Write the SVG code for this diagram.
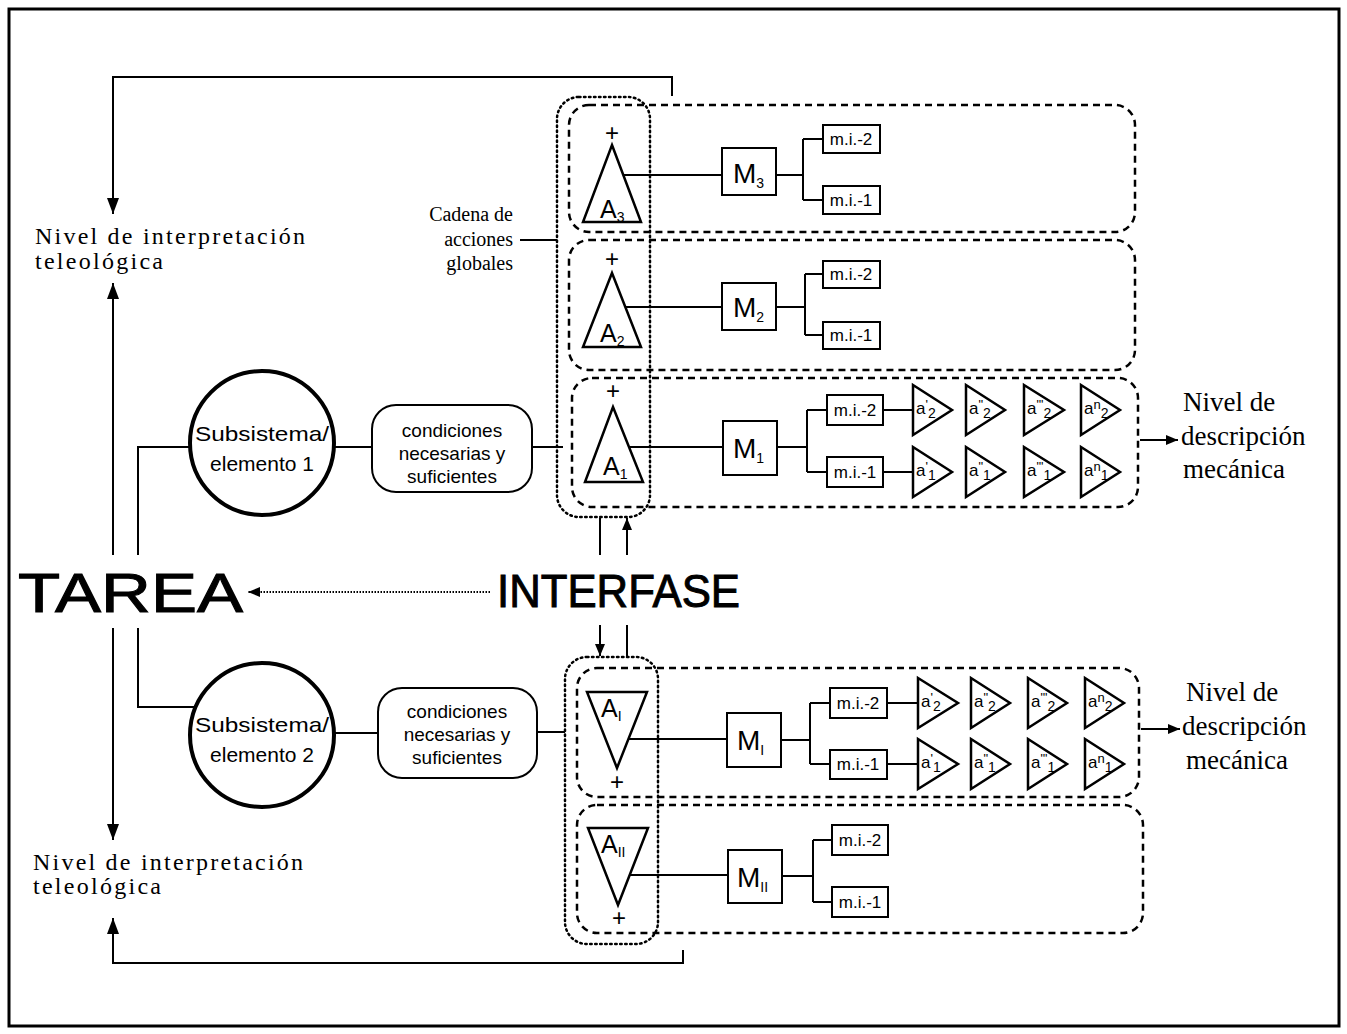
<svg xmlns="http://www.w3.org/2000/svg" width="1347" height="1034" viewBox="0 0 1347 1034">
<defs>
<marker id="arr" viewBox="0 0 16 12" refX="16" refY="6" orient="auto" markerWidth="16" markerHeight="12" markerUnits="userSpaceOnUse"><path d="M0,0 L16,6 L0,12 z" fill="#000"/></marker>
<marker id="arrs" viewBox="0 0 12 10" refX="12" refY="5" orient="auto" markerWidth="12" markerHeight="10" markerUnits="userSpaceOnUse"><path d="M0,0 L12,5 L0,10 z" fill="#000"/></marker>
</defs>
<style>
.ln{fill:none;stroke:#000;stroke-width:2}
.dash{fill:none;stroke:#000;stroke-width:2.5;stroke-dasharray:7 5}
.dot{fill:none;stroke:#000;stroke-width:2.5;stroke-dasharray:1.5 3.5;stroke-linecap:round}
.box{fill:#fff;stroke:#000;stroke-width:2}
.tri{fill:#fff;stroke:#000;stroke-width:2.5;stroke-linejoin:miter}
.sans{font-family:"Liberation Sans",Arial,sans-serif;fill:#000}
.mi{font-family:"Liberation Sans",Arial,sans-serif;font-size:17px;text-anchor:middle}
.aa{font-family:"Liberation Sans",Arial,sans-serif;font-size:17px}
.big{font-family:"Liberation Sans",Arial,sans-serif;font-size:25px}
.mm{font-family:"Liberation Sans",Arial,sans-serif;font-size:28px}
.sub{font-size:14px}
.sup{font-size:13px}
.plus{font-family:"Liberation Sans",Arial,sans-serif;font-size:24px;text-anchor:middle}
.niv{font-family:"Liberation Serif","Times New Roman",serif;font-size:24px}
.desc{font-family:"Liberation Serif","Times New Roman",serif;font-size:27px}
.cad{font-family:"Liberation Serif","Times New Roman",serif;font-size:20px;text-anchor:end}
.cond{font-family:"Liberation Sans",Arial,sans-serif;font-size:19px;text-anchor:middle}
.sub2{font-family:"Liberation Sans",Arial,sans-serif;font-size:21px;text-anchor:middle}
.huge{font-family:"Liberation Sans",Arial,sans-serif;fill:#000;stroke:#000;stroke-width:1}
</style>
<rect x="0" y="0" width="1347" height="1034" fill="#fff"/>
<rect x="9" y="9" width="1330" height="1017" fill="none" stroke="#000" stroke-width="3"/>

<g id="connectors">
<path class="ln" d="M672,96 V77 H113 V214" marker-end="url(#arr)"/>
<path class="ln" d="M113,555 V283" marker-end="url(#arr)"/>
<path class="ln" d="M113,628 V840" marker-end="url(#arr)"/>
<path class="ln" d="M683,950 V963 H113 V918" marker-end="url(#arr)"/>
<path class="ln" d="M190,447 H138 V555"/>
<path class="ln" d="M138,628 V707 H196"/>
<path class="ln" d="M334,447 H372"/>
<path class="ln" d="M532,447 H563"/>
<path class="ln" d="M334,733 H378"/>
<path class="ln" d="M537,732 H565"/>
<path class="ln" d="M520,240 H557"/>
<path class="ln" d="M600,518 V555"/>
<path class="ln" d="M627,555 V518" marker-end="url(#arrs)"/>
<path class="ln" d="M600,625 V656" marker-end="url(#arrs)"/>
<path class="ln" d="M627,625 V657"/>
<path class="ln" d="M490,592 H248" stroke-dasharray="1.5 1.5" marker-end="url(#arrs)"/>
<path class="ln" d="M1140,440 H1178" marker-end="url(#arrs)"/>
<path class="ln" d="M1141,729 H1180" marker-end="url(#arrs)"/>
<path class="ln" d="M623,175 H722 M776,175 H803 M803,139 V200 M803,139 H823 M803,200 H823"/>
<path class="ln" d="M625,307 H722 M776,307 H805 M805,274 V335 M805,274 H823 M805,335 H823"/>
<path class="ln" d="M629,447 H723 M777,447 H807 M807,410 V472 M807,410 H827 M807,472 H827 M883,410 H913 M883,472 H913"/>
<path class="ln" d="M628,739 H727 M781,740 H810 M810,703 V764 M810,703 H830 M810,764 H830 M887,703 H918 M887,764 H918"/>
<path class="ln" d="M630,875 H728 M782,876 H813 M813,840 V902 M813,840 H832 M813,902 H832"/>
</g>

<g id="labels">
<text class="niv" x="35" y="244" textLength="270" lengthAdjust="spacing">Nivel de interpretación</text>
<text class="niv" x="35" y="269" textLength="128" lengthAdjust="spacing">teleológica</text>
<text class="niv" x="33" y="870" textLength="270" lengthAdjust="spacing">Nivel de interpretación</text>
<text class="niv" x="33" y="894" textLength="128" lengthAdjust="spacing">teleológica</text>
<text class="cad" x="513" y="221">Cadena de</text>
<text class="cad" x="513" y="246">acciones</text>
<text class="cad" x="513" y="270">globales</text>
<text class="huge" x="18" y="612" font-size="56" textLength="225" lengthAdjust="spacingAndGlyphs">TAREA</text>
<text class="huge" x="497" y="607" font-size="46" textLength="243" lengthAdjust="spacingAndGlyphs">INTERFASE</text>
<text class="desc" x="1183" y="411">Nivel de</text>
<text class="desc" x="1181" y="445">descripción</text>
<text class="desc" x="1183" y="478">mecánica</text>
<text class="desc" x="1186" y="701">Nivel de</text>
<text class="desc" x="1182" y="735">descripción</text>
<text class="desc" x="1186" y="769">mecánica</text>
</g>

<g id="subsistema1">
<circle cx="262" cy="443" r="72" fill="#fff" stroke="#000" stroke-width="4"/>
<text class="sub2" x="262" y="441" textLength="134" lengthAdjust="spacingAndGlyphs">Subsistema/</text>
<text class="sub2" x="262" y="471">elemento 1</text>
</g>
<g id="subsistema2">
<circle cx="262" cy="735" r="72" fill="#fff" stroke="#000" stroke-width="4"/>
<text class="sub2" x="262" y="732" textLength="134" lengthAdjust="spacingAndGlyphs">Subsistema/</text>
<text class="sub2" x="262" y="762">elemento 2</text>
</g>
<g id="condiciones1">
<rect class="box" x="372" y="405" width="160" height="87" rx="24"/>
<text class="cond" x="452" y="437">condiciones</text>
<text class="cond" x="452" y="460">necesarias y</text>
<text class="cond" x="452" y="483">suficientes</text>
</g>
<g id="condiciones2">
<rect class="box" x="378" y="688" width="159" height="90" rx="24"/>
<text class="cond" x="457" y="718">condiciones</text>
<text class="cond" x="457" y="741">necesarias y</text>
<text class="cond" x="457" y="764">suficientes</text>
</g>

<g id="interfase-upper"><rect class="dot" x="557" y="97" width="93" height="420" rx="22"/></g>
<g id="interfase-lower"><rect class="dot" x="565" y="657" width="93" height="287" rx="22"/></g>

<g id="row-A3">
<rect class="dash" x="569" y="105" width="566" height="127" rx="20"/>
<text class="plus" x="612" y="141">+</text>
<path class="tri" d="M612,145 L641,222 L583,222 Z"/>
<text class="big" x="600" y="218">A<tspan class="sub" dy="4">3</tspan></text>
<rect class="box" x="722" y="148" width="54" height="47"/>
<text class="mm" x="733" y="183">M<tspan class="sub" dy="5">3</tspan></text>
<rect class="box" x="823" y="125" width="57" height="28"/><text class="mi" x="851" y="145">m.i.-2</text>
<rect class="box" x="823" y="186" width="57" height="28"/><text class="mi" x="851" y="206">m.i.-1</text>
</g>
<g id="row-A2">
<rect class="dash" x="569" y="240" width="566" height="130" rx="20"/>
<text class="plus" x="612" y="267">+</text>
<path class="tri" d="M612,273 L641,347 L583,347 Z"/>
<text class="big" x="600" y="342">A<tspan class="sub" dy="4">2</tspan></text>
<rect class="box" x="722" y="283" width="54" height="47"/>
<text class="mm" x="733" y="317">M<tspan class="sub" dy="5">2</tspan></text>
<rect class="box" x="823" y="261" width="57" height="27"/><text class="mi" x="851" y="280">m.i.-2</text>
<rect class="box" x="823" y="322" width="57" height="27"/><text class="mi" x="851" y="341">m.i.-1</text>
</g>
<g id="row-A1">
<rect class="dash" x="572" y="378" width="566" height="129" rx="20"/>
<text class="plus" x="613" y="399">+</text>
<path class="tri" d="M613,407 L643,482 L585,482 Z"/>
<text class="big" x="603" y="475">A<tspan class="sub" dy="4">1</tspan></text>
<rect class="box" x="723" y="421" width="54" height="54"/>
<text class="mm" x="733" y="458">M<tspan class="sub" dy="5">1</tspan></text>
<rect class="box" x="827" y="395" width="56" height="30"/><text class="mi" x="855" y="416">m.i.-2</text>
<rect class="box" x="827" y="457" width="56" height="30"/><text class="mi" x="855" y="478">m.i.-1</text>
<path class="tri" d="M913,385 L952,410 L913,435 Z"/><text class="aa" x="916" y="414">a<tspan class="sup" dy="-5">'</tspan><tspan class="sub" dy="9">2</tspan></text>
<path class="tri" d="M966,385 L1005,410 L966,435 Z"/><text class="aa" x="969" y="414">a<tspan class="sup" dy="-5">"</tspan><tspan class="sub" dy="9">2</tspan></text>
<path class="tri" d="M1024,385 L1064,410 L1024,435 Z"/><text class="aa" x="1027" y="414">a<tspan class="sup" dy="-5">"'</tspan><tspan class="sub" dy="9">2</tspan></text>
<path class="tri" d="M1081,385 L1120,410 L1081,435 Z"/><text class="aa" x="1084" y="414">a<tspan class="sup" dy="-5">n</tspan><tspan class="sub" dy="9">2</tspan></text>
<path class="tri" d="M913,447 L952,472 L913,497 Z"/><text class="aa" x="916" y="476">a<tspan class="sup" dy="-5">'</tspan><tspan class="sub" dy="9">1</tspan></text>
<path class="tri" d="M966,447 L1005,472 L966,497 Z"/><text class="aa" x="969" y="476">a<tspan class="sup" dy="-5">"</tspan><tspan class="sub" dy="9">1</tspan></text>
<path class="tri" d="M1024,447 L1064,472 L1024,497 Z"/><text class="aa" x="1027" y="476">a<tspan class="sup" dy="-5">"'</tspan><tspan class="sub" dy="9">1</tspan></text>
<path class="tri" d="M1081,447 L1120,472 L1081,497 Z"/><text class="aa" x="1084" y="476">a<tspan class="sup" dy="-5">n</tspan><tspan class="sub" dy="9">1</tspan></text>
</g>
<g id="row-AI">
<rect class="dash" x="577" y="668" width="562" height="129" rx="20"/>
<path class="tri" d="M587,692 L647,692 L617,768 Z"/>
<text class="big" x="601" y="717">A<tspan class="sub" dy="4">I</tspan></text>
<text class="plus" x="617" y="790">+</text>
<rect class="box" x="727" y="713" width="54" height="54"/>
<text class="mm" x="737" y="750">M<tspan class="sub" dy="5">I</tspan></text>
<rect class="box" x="830" y="688" width="57" height="30"/><text class="mi" x="858" y="709">m.i.-2</text>
<rect class="box" x="830" y="750" width="57" height="29"/><text class="mi" x="858" y="770">m.i.-1</text>
<path class="tri" d="M918,678 L958,703 L918,728 Z"/><text class="aa" x="921" y="707">a<tspan class="sup" dy="-5">'</tspan><tspan class="sub" dy="9">2</tspan></text>
<path class="tri" d="M971,678 L1010,703 L971,728 Z"/><text class="aa" x="974" y="707">a<tspan class="sup" dy="-5">"</tspan><tspan class="sub" dy="9">2</tspan></text>
<path class="tri" d="M1028,678 L1067,703 L1028,728 Z"/><text class="aa" x="1031" y="707">a<tspan class="sup" dy="-5">"'</tspan><tspan class="sub" dy="9">2</tspan></text>
<path class="tri" d="M1085,678 L1124,703 L1085,728 Z"/><text class="aa" x="1088" y="707">a<tspan class="sup" dy="-5">n</tspan><tspan class="sub" dy="9">2</tspan></text>
<path class="tri" d="M918,739 L958,764 L918,789 Z"/><text class="aa" x="921" y="768">a<tspan class="sup" dy="-5">'</tspan><tspan class="sub" dy="9">1</tspan></text>
<path class="tri" d="M971,739 L1010,764 L971,789 Z"/><text class="aa" x="974" y="768">a<tspan class="sup" dy="-5">"</tspan><tspan class="sub" dy="9">1</tspan></text>
<path class="tri" d="M1028,739 L1067,764 L1028,789 Z"/><text class="aa" x="1031" y="768">a<tspan class="sup" dy="-5">"'</tspan><tspan class="sub" dy="9">1</tspan></text>
<path class="tri" d="M1085,739 L1124,764 L1085,789 Z"/><text class="aa" x="1088" y="768">a<tspan class="sup" dy="-5">n</tspan><tspan class="sub" dy="9">1</tspan></text>
</g>
<g id="row-AII">
<rect class="dash" x="577" y="805" width="566" height="128" rx="20"/>
<path class="tri" d="M588,828 L648,828 L618,905 Z"/>
<text class="big" x="601" y="853">A<tspan class="sub" dy="4">II</tspan></text>
<text class="plus" x="619" y="926">+</text>
<rect class="box" x="728" y="850" width="54" height="53"/>
<text class="mm" x="737" y="887">M<tspan class="sub" dy="5">II</tspan></text>
<rect class="box" x="832" y="825" width="56" height="30"/><text class="mi" x="860" y="846">m.i.-2</text>
<rect class="box" x="832" y="887" width="56" height="30"/><text class="mi" x="860" y="908">m.i.-1</text>
</g>
</svg>
